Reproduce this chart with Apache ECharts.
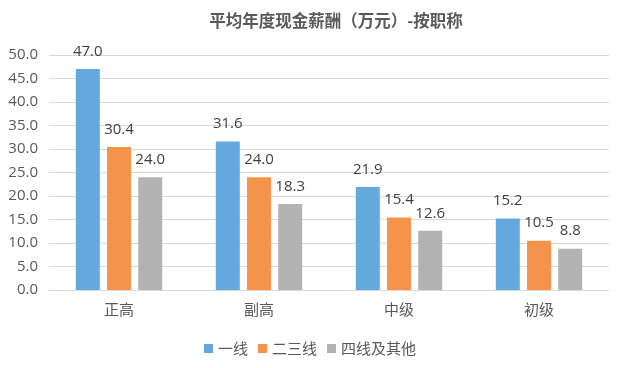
<!DOCTYPE html>
<html><head><meta charset="utf-8">
<script src="https://cdn.jsdelivr.net/npm/echarts@6/dist/echarts.min.js"></script>
<style>html,body{margin:0;padding:0;background:#fff}#c{width:620px;height:368px}</style>
</head><body><div id="c"></div>
<script>
const categories = ['正高', '副高', '中级', '初级'];
const seriesNames = ['一线', '二三线', '四线及其他'];
const frontline = [47.0, 31.6, 21.9, 15.2];
const secondThird = [30.4, 24.0, 15.4, 10.5];
const fourthOther = [24.0, 18.3, 12.6, 8.8];
const yTicks = { min: 0, max: 50, interval: 5 };
const titleText = '平均年度现金薪酬（万元）-按职称';

const colors = ['#64A9DD', '#F5934A', '#B3B3B3'];
const ff = '"Open Sans", "Noto Sans CJK SC", sans-serif';
const cjk = '"Noto Sans CJK SC", sans-serif';
const chart = echarts.init(document.getElementById('c'));
const mk = (name, data, color) => ({
  name, type: 'bar', data, barWidth: 24, barGap: '30%',
  itemStyle: { color },
  label: { show: true, position: 'top', distance: 10, color: '#404040', fontSize: 15, fontFamily: ff,
    formatter: p => p.value.toFixed(1) }
});
chart.setOption({
  animation: false,
  textStyle: { fontFamily: ff },
  title: { text: titleText, left: 331, top: 7, textAlign: 'center',
    textStyle: { fontSize: 16.5, fontWeight: 'bold', color: '#595959', fontFamily: cjk } },
  legend: { data: seriesNames, bottom: 7, left: 'center', itemWidth: 9, itemHeight: 9, itemGap: 10,
    icon: 'rect', textStyle: { fontSize: 15, color: '#595959', fontFamily: cjk } },
  grid: { left: 49, right: 11, top: 55, bottom: 78, containLabel: false },
  xAxis: { type: 'category', data: categories,
    axisLine: { lineStyle: { color: '#D9D9D9' } }, axisTick: { show: false },
    axisLabel: { color: '#595959', fontSize: 15, margin: 12, fontFamily: cjk } },
  yAxis: { type: 'value', min: yTicks.min, max: yTicks.max, interval: yTicks.interval,
    axisLine: { show: false }, axisTick: { show: false },
    splitLine: { lineStyle: { color: '#D9D9D9' } },
    axisLabel: { color: '#595959', fontSize: 15, margin: 11, formatter: v => v.toFixed(1) } },
  series: [mk(seriesNames[0], frontline, colors[0]), mk(seriesNames[1], secondThird, colors[1]), mk(seriesNames[2], fourthOther, colors[2])]
});
</script></body></html>
